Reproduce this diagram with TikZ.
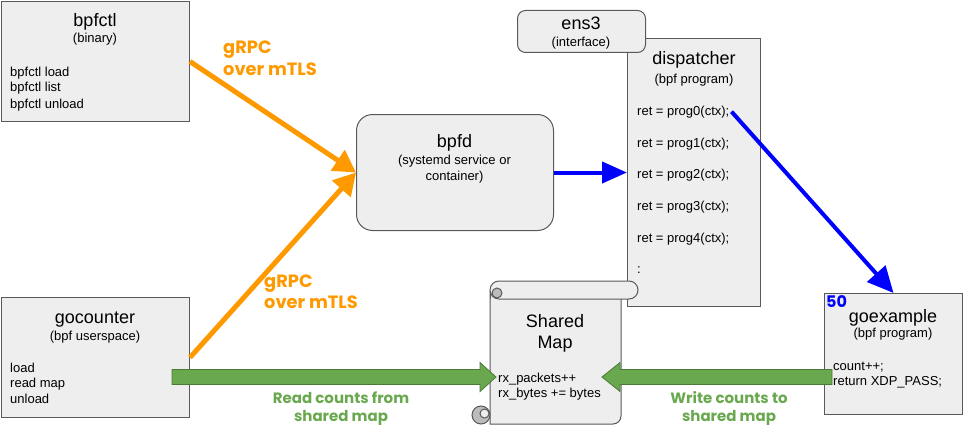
\documentclass[tikz,border=0pt]{standalone}
\usepackage{fontspec}
\setmainfont{Liberation Sans}
\newfontfamily\lblfont{Poppins}
\usetikzlibrary{arrows.meta,calc}
\definecolor{boxfill}{HTML}{EEEEEE}
\definecolor{boxline}{HTML}{595959}
\definecolor{orng}{HTML}{FF9900}
\definecolor{grn}{HTML}{6AA84F}
\definecolor{grnline}{HTML}{4A7A36}
\definecolor{curlgray}{HTML}{BBBBBB}
\begin{document}
\begin{tikzpicture}[x=1pt,y=-1pt,
  box/.style={draw=boxline, fill=boxfill, line width=1pt, inner sep=0pt, anchor=north west},
  ttl/.style={font=\fontsize{18}{21}\selectfont, anchor=base, inner sep=0pt},
  txt/.style={font=\fontsize{13}{15}\selectfont, anchor=base, inner sep=0pt},
  ltxt/.style={txt, anchor=base west},
  lbl/.style={font=\lblfont\bfseries\fontsize{17.8}{22}\selectfont, anchor=base west, inner sep=0pt, text=orng},
  glbl/.style={font=\lblfont\bfseries\fontsize{15}{18}\selectfont, anchor=base, inner sep=0pt, text=grn},
  orarrow/.style={draw=orng, line width=5pt, -{Triangle[length=22pt,width=24pt]}},
  blarrow/.style={draw=blue, line width=4pt, -{Triangle[length=25pt,width=21pt]}},
  garrow/.style={fill=grn, draw=grnline, line width=0.8pt, line join=miter},
  scrollsty/.style={draw=boxline, fill=boxfill, line width=1pt}
]
\useasboundingbox (0,0) rectangle (963,428);

% boxes
\node[box, minimum width=188pt, minimum height=120pt] (bpfctl) at (1,1) {};
\node[box, minimum width=188pt, minimum height=120pt] (gocounter) at (1,297) {};
\node[box, rounded corners=16pt, minimum width=197pt, minimum height=116pt] (bpfd) at (356,114) {};
\node[box, minimum width=133pt, minimum height=268pt] (dispatcher) at (627,38) {};
\node[box, rounded corners=8pt, minimum width=128pt, minimum height=42pt] (ens3) at (517,10) {};
\node[box, minimum width=138pt, minimum height=121pt] (goexample) at (824,293) {};

% shared map scroll
\node[inner sep=0pt, minimum width=131pt, minimum height=143pt, anchor=north west] (map) at (490,281) {};
\filldraw[scrollsty] (490,292) -- (490,424) -- (613,424) .. controls (617.4,424) and (621,420.4) .. (621,416) -- (621,295) -- cycle;
\filldraw[scrollsty, fill=curlgray] (481,415) circle (9);
\filldraw[scrollsty] (484.5,413.5) circle (4.5);
\filldraw[scrollsty, rounded corners=9pt] (490,281) rectangle (638,299);
\filldraw[scrollsty, fill=curlgray] (497,293) circle (5);
\draw[boxline, line width=1pt] (490,293) -- (490,299);

% text: bpfctl
\node[ttl] (bpfctlT) at (95,27) {bpfctl};
\node[txt] (bpfctlS) at (95,43) {(binary)};
\node[ltxt] (bpfctl1) at (10,76) {bpfctl load};
\node[ltxt] (bpfctl2) at (10,92) {bpfctl list};
\node[ltxt] (bpfctl3) at (10,108) {bpfctl unload};

% gocounter
\node[ttl] (gocT) at (95,323) {gocounter};
\node[txt] (gocS) at (95,340) {(bpf userspace)};
\node[ltxt] (goc1) at (10,372) {load};
\node[ltxt] (goc2) at (10,387.5) {read map};
\node[ltxt] (goc3) at (10,403) {unload};

% bpfd
\node[ttl] (bpfdT) at (454.5,147) {bpfd};
\node[txt] (bpfdS1) at (454.5,164) {(systemd service or};
\node[txt] (bpfdS2) at (454.5,180) {container)};

% ens3
\node[ttl] (ensT) at (581,30) {ens3};
\node[txt] (ensS) at (581,47) {(interface)};

% dispatcher
\node[ttl] (dispT) at (694,65) {dispatcher};
\node[txt] (dispS) at (694,83) {(bpf program)};
\node[ltxt] (p0) at (637,115) {ret = prog0(ctx);};
\node[ltxt] (p1) at (637,147) {ret = prog1(ctx);};
\node[ltxt] (p2) at (637,178) {ret = prog2(ctx);};
\node[ltxt] (p3) at (637,210) {ret = prog3(ctx);};
\node[ltxt] (p4) at (637,242) {ret = prog4(ctx);};
\node[ltxt] (p5) at (637,273) {:};

% goexample
\node[anchor=base west, inner sep=0pt, text=blue, font=\lblfont\bfseries\fontsize{16}{18}\selectfont] (fifty) at (826,307) {50};
\node[ttl] (goexT) at (893,322) {goexample};
\node[txt] (goexS) at (893,337) {(bpf program)};
\node[ltxt] (goex1) at (833,370) {count++;};
\node[ltxt] (goex2) at (833,385) {return XDP\_PASS;};

% map text
\node[ttl] (mapT1) at (555,327) {Shared};
\node[ttl] (mapT2) at (555,348) {Map};
\node[ltxt] (map1) at (498,382) {rx\_packets++};
\node[ltxt] (map2) at (498,397) {rx\_bytes += bytes};

% orange connectors
\draw[orarrow] (bpfctl.east) -- (bpfd.west);
\draw[orarrow] (gocounter.east) -- (bpfd.west);
\node[lbl] (l1a) at (223,53) {gRPC};
\node[lbl] (l1b) at (223,75) {over mTLS};
\node[lbl] (l2a) at (264,287) {gRPC};
\node[lbl] (l2b) at (264,308) {over mTLS};

% blue connectors
\draw[blarrow] (bpfd.east) -- (dispatcher.west);
\draw[blarrow, -{Triangle[length=26pt,width=24pt]}] ([xshift=2pt]p0.east) -- (goexample.north);

% green block arrows
\coordinate (gs1) at (172,377);
\coordinate (gt1) at (496,377);
\coordinate (gs2) at (832,377);
\coordinate (gt2) at (602,377);
\filldraw[garrow] ($(gs1)+(0,-7.5)$) -- ($(gt1)+(-16,-7.5)$) -- ($(gt1)+(-16,-14.5)$) -- (gt1) -- ($(gt1)+(-16,14.5)$) -- ($(gt1)+(-16,7.5)$) -- ($(gs1)+(0,7.5)$) -- cycle;
\filldraw[garrow] ($(gs2)+(0,-7.5)$) -- ($(gt2)+(18,-7.5)$) -- ($(gt2)+(18,-14.5)$) -- (gt2) -- ($(gt2)+(18,14.5)$) -- ($(gt2)+(18,7.5)$) -- ($(gs2)+(0,7.5)$) -- cycle;
\node[glbl] (g1a) at (341,403) {Read counts from};
\node[glbl] (g1b) at (341,421) {shared map};
\node[glbl] (g2a) at (729,403) {Write counts to};
\node[glbl] (g2b) at (729,421) {shared map};
\end{tikzpicture}
\end{document}
